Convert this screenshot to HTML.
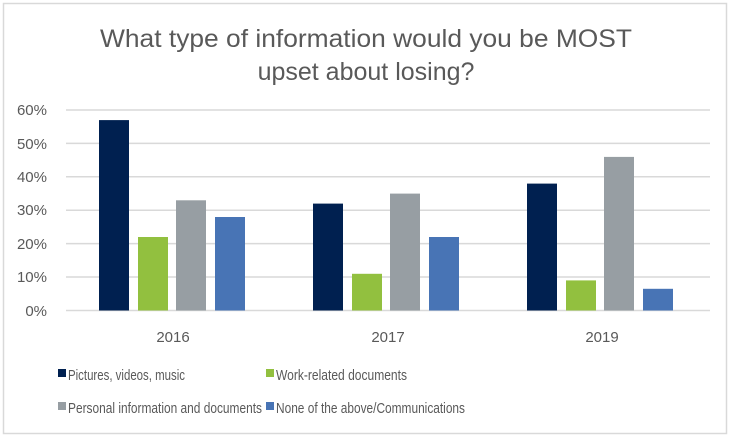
<!DOCTYPE html><html><head><style>body{margin:0;background:#fff}</style></head><body>
<svg width="730" height="438" xmlns="http://www.w3.org/2000/svg" font-family="Liberation Sans, sans-serif">
<rect x="3.5" y="3.5" width="723" height="430" fill="#fff" stroke="#d9d9d9" stroke-width="1.5"/>
<text x="100" y="47" font-size="25" fill="#595959" textLength="532" lengthAdjust="spacingAndGlyphs">What type of information would you be MOST</text>
<text x="366" y="80" font-size="25" fill="#595959" text-anchor="middle">upset about losing?</text>
<g stroke="#d9d9d9" stroke-width="1.5">
<line x1="66" x2="710" y1="110" y2="110"/><line x1="66" x2="710" y1="143.4" y2="143.4"/><line x1="66" x2="710" y1="176.8" y2="176.8"/><line x1="66" x2="710" y1="210.2" y2="210.2"/><line x1="66" x2="710" y1="243.6" y2="243.6"/><line x1="66" x2="710" y1="277" y2="277"/><line x1="66" x2="710" y1="310.5" y2="310.5"/>
</g>
<g font-size="15" fill="#595959" text-anchor="end">
<text x="47" y="115">60%</text><text x="47" y="149">50%</text><text x="47" y="182">40%</text><text x="47" y="215">30%</text><text x="47" y="249">20%</text><text x="47" y="282">10%</text><text x="47" y="316">0%</text>
</g>
<g>
<rect x="99" y="120.1" width="30" height="190.4" fill="#002050"/>
<rect x="138" y="237" width="30" height="73.5" fill="#92c03f"/>
<rect x="176" y="200.3" width="30" height="110.2" fill="#979ea3"/>
<rect x="215" y="217" width="30" height="93.5" fill="#4874b5"/>
<rect x="313" y="203.6" width="30" height="106.9" fill="#002050"/>
<rect x="352" y="273.8" width="30" height="36.7" fill="#92c03f"/>
<rect x="390" y="193.6" width="30" height="116.9" fill="#979ea3"/>
<rect x="429" y="237" width="30" height="73.5" fill="#4874b5"/>
<rect x="527" y="183.6" width="30" height="126.9" fill="#002050"/>
<rect x="566" y="280.4" width="30" height="30.1" fill="#92c03f"/>
<rect x="604" y="156.9" width="30" height="153.6" fill="#979ea3"/>
<rect x="643" y="288.8" width="30" height="21.7" fill="#4874b5"/>
</g>
<g font-size="15" fill="#595959" text-anchor="middle">
<text x="173" y="342">2016</text><text x="388" y="342">2017</text><text x="602" y="342">2019</text>
</g>
<g font-size="15" fill="#595959">
<rect x="58" y="369" width="8" height="8" fill="#002050"/><text x="68" y="380" textLength="117" lengthAdjust="spacingAndGlyphs">Pictures, videos, music</text>
<rect x="266" y="369" width="8" height="8" fill="#92c03f"/><text x="276" y="380" textLength="131" lengthAdjust="spacingAndGlyphs">Work-related documents</text>
<rect x="58" y="402" width="8" height="8" fill="#979ea3"/><text x="68" y="413" textLength="194" lengthAdjust="spacingAndGlyphs">Personal information and documents</text>
<rect x="266" y="402" width="8" height="8" fill="#4874b5"/><text x="276" y="413" textLength="189" lengthAdjust="spacingAndGlyphs">None of the above/Communications</text>
</g>
</svg></body></html>
